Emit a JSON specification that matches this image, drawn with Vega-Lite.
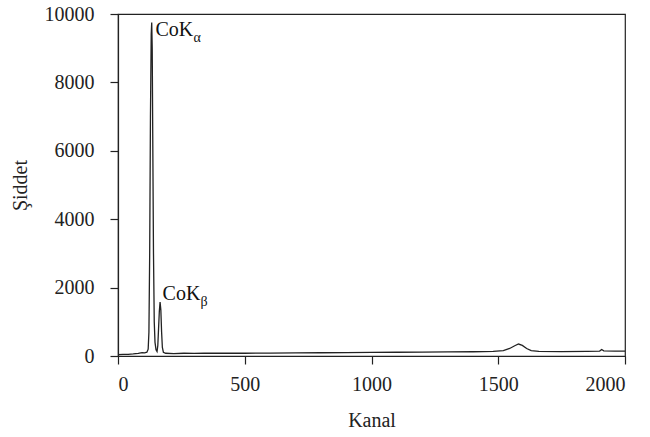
{
  "$schema": "https://vega.github.io/schema/vega-lite/v6.json",
  "width": 507,
  "height": 342,
  "autosize": "none",
  "padding": {"left": 118, "top": 14, "right": 25, "bottom": 81},
  "background": "white",
  "config": {
    "font": "Liberation Serif",
    "view": {"stroke": "#222", "strokeWidth": 1.2},
    "style": {
      "guide-label": {"font": "Liberation Serif", "fontSize": 20, "fill": "#222"},
      "guide-title": {"font": "Liberation Serif", "fontSize": 20, "fill": "#222", "fontWeight": "normal"}
    },
    "axis": {
      "domainColor": "#222", "tickColor": "#222", "domainWidth": 1.2, "tickWidth": 1.2,
      "labelFont": "Liberation Serif", "titleFont": "Liberation Serif",
      "labelFontSize": 20, "titleFontSize": 20, "labelColor": "#222", "titleColor": "#222",
      "titleFontWeight": "normal", "grid": false, "tickSize": 8, "format": "d"
    }
  },
  "datasets": {
    "spec": [
      {"k": 0, "v": 40}, {"k": 20, "v": 45}, {"k": 40, "v": 50}, {"k": 60, "v": 60},
      {"k": 80, "v": 75}, {"k": 95, "v": 100}, {"k": 105, "v": 90}, {"k": 114, "v": 110},
      {"k": 119, "v": 200}, {"k": 122, "v": 700}, {"k": 125, "v": 3000}, {"k": 128, "v": 7000},
      {"k": 131, "v": 9400}, {"k": 133, "v": 9750}, {"k": 135, "v": 9000}, {"k": 137, "v": 6500},
      {"k": 140, "v": 3000}, {"k": 143, "v": 1000}, {"k": 146, "v": 400}, {"k": 150, "v": 180},
      {"k": 154, "v": 130}, {"k": 157, "v": 300}, {"k": 160, "v": 800}, {"k": 163, "v": 1300},
      {"k": 166, "v": 1580}, {"k": 169, "v": 1350}, {"k": 172, "v": 700}, {"k": 175, "v": 250},
      {"k": 179, "v": 110}, {"k": 188, "v": 80}, {"k": 220, "v": 70}, {"k": 260, "v": 80},
      {"k": 300, "v": 75}, {"k": 340, "v": 85}, {"k": 400, "v": 80}, {"k": 450, "v": 85},
      {"k": 500, "v": 80}, {"k": 600, "v": 85}, {"k": 700, "v": 90}, {"k": 800, "v": 95},
      {"k": 900, "v": 100}, {"k": 1000, "v": 105}, {"k": 1100, "v": 110}, {"k": 1200, "v": 115},
      {"k": 1300, "v": 120}, {"k": 1400, "v": 125}, {"k": 1480, "v": 135}, {"k": 1520, "v": 160},
      {"k": 1545, "v": 220}, {"k": 1565, "v": 300}, {"k": 1580, "v": 350}, {"k": 1595, "v": 310},
      {"k": 1612, "v": 220}, {"k": 1630, "v": 160}, {"k": 1660, "v": 135}, {"k": 1750, "v": 130},
      {"k": 1850, "v": 135}, {"k": 1900, "v": 145}, {"k": 1908, "v": 190}, {"k": 1916, "v": 150},
      {"k": 1960, "v": 140}, {"k": 2000, "v": 140}
    ],
    "labels": [
      {"k": 148, "v": 9360, "main": "CoK", "sub": "α"},
      {"k": 176, "v": 1640, "main": "CoK", "sub": "β"}
    ]
  },
  "layer": [
    {
      "data": {"name": "spec"},
      "mark": {"type": "line", "color": "#222", "strokeWidth": 1.3, "clip": true},
      "encoding": {
        "x": {"field": "k", "type": "quantitative", "title": "Kanal",
              "scale": {"domain": [0, 2000], "nice": false},
              "axis": {"values": [0, 500, 1000, 1500, 2000], "format": "d", "labelFont": "Liberation Serif", "titleFont": "Liberation Serif", "labelPadding": 10, "titlePadding": 16}},
        "y": {"field": "v", "type": "quantitative", "title": "Şiddet",
              "scale": {"domain": [0, 10000], "nice": false},
              "axis": {"values": [0, 2000, 4000, 6000, 8000, 10000], "format": "d", "labelFont": "Liberation Serif", "titleFont": "Liberation Serif", "labelPadding": 16, "titlePadding": 14}}
      }
    },
    {
      "data": {"name": "labels"},
      "mark": {"type": "text", "align": "left", "baseline": "alphabetic", "fontSize": 20, "color": "#111", "font": "Liberation Serif"},
      "encoding": {
        "x": {"field": "k", "type": "quantitative"},
        "y": {"field": "v", "type": "quantitative"},
        "text": {"field": "main"}
      }
    },
    {
      "data": {"name": "labels"},
      "mark": {"type": "text", "align": "left", "baseline": "alphabetic", "fontSize": 14, "dx": 38, "dy": 6, "color": "#111", "font": "Liberation Serif"},
      "encoding": {
        "x": {"field": "k", "type": "quantitative"},
        "y": {"field": "v", "type": "quantitative"},
        "text": {"field": "sub"}
      }
    }
  ]
}
